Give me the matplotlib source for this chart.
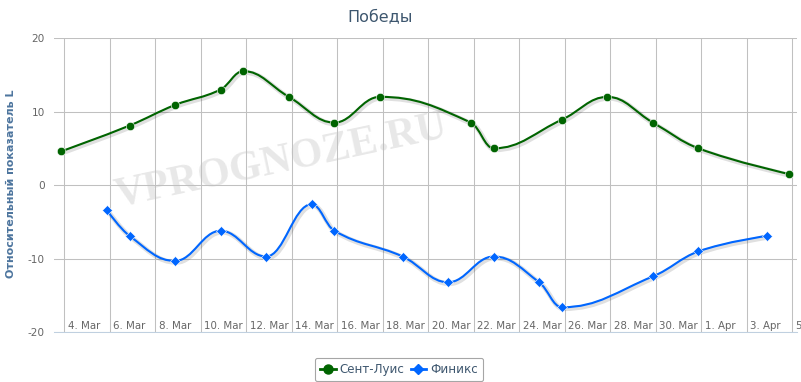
import numpy as np
import matplotlib
matplotlib.use("Agg")
import matplotlib.pyplot as plt
import matplotlib.dates as mdates
import matplotlib.patheffects as pe
from matplotlib.path import Path
from matplotlib.patches import PathPatch
from matplotlib.lines import Line2D
import pandas as pd

# ---------------- data ----------------
title = "Победы"
y_label = "Относительный показатель L"
series_names = ["Сент-Луис", "Финикс"]
series_colors = ["#006400", "#0066FF"]

stl_dates = ["2013-03-04", "2013-03-07", "2013-03-09", "2013-03-11", "2013-03-12",
             "2013-03-14", "2013-03-16", "2013-03-18", "2013-03-22", "2013-03-23",
             "2013-03-26", "2013-03-28", "2013-03-30", "2013-04-01", "2013-04-05"]
stl_values = [4.6, 8.1, 10.9, 13.0, 15.5, 12.0, 8.5, 12.0, 8.5, 5.0, 8.9, 12.0, 8.5, 5.0, 1.5]

phx_dates = ["2013-03-06", "2013-03-07", "2013-03-09", "2013-03-11", "2013-03-13",
             "2013-03-15", "2013-03-16", "2013-03-19", "2013-03-21", "2013-03-23",
             "2013-03-25", "2013-03-26", "2013-03-30", "2013-04-01", "2013-04-04"]
phx_values = [-3.4, -6.9, -10.3, -6.2, -9.7, -2.6, -6.2, -9.7, -13.2, -9.7, -13.2, -16.6, -12.4, -9.0, -6.9]

x_tick_dates = ["2013-03-04", "2013-03-06", "2013-03-08", "2013-03-10", "2013-03-12",
                "2013-03-14", "2013-03-16", "2013-03-18", "2013-03-20", "2013-03-22",
                "2013-03-24", "2013-03-26", "2013-03-28", "2013-03-30", "2013-04-01",
                "2013-04-03", "2013-04-05"]
x_tick_labels = ["4. Mar", "6. Mar", "8. Mar", "10. Mar", "12. Mar", "14. Mar", "16. Mar",
                 "18. Mar", "20. Mar", "22. Mar", "24. Mar", "26. Mar", "28. Mar",
                 "30. Mar", "1. Apr", "3. Apr", "5. Apr"]
y_ticks = [-20, -10, 0, 10, 20]
watermark = "VPROGNOZE.RU"

# time of day of the data points (timestamps are a few hours before midnight)
point_time_shift = pd.Timedelta(hours=-3)


def to_num(dates, shift=pd.Timedelta(0)):
    return mdates.date2num(pd.to_datetime(dates) + shift)


def hc_spline(xs, ys, smoothing=1.5):
    n = len(xs)
    denom = smoothing + 1.0
    left = [None] * n
    right = [None] * n
    for i in range(n):
        x, y = xs[i], ys[i]
        if 0 < i < n - 1:
            lx, ly = xs[i - 1], ys[i - 1]
            nx, ny = xs[i + 1], ys[i + 1]
            lcx = (smoothing * x + lx) / denom
            lcy = (smoothing * y + ly) / denom
            rcx = (smoothing * x + nx) / denom
            rcy = (smoothing * y + ny) / denom
            corr = (rcy - lcy) * (rcx - x) / (rcx - lcx) + y - rcy
            lcy += corr
            rcy += corr
            if lcy > ly and lcy > y:
                lcy = max(ly, y); rcy = 2 * y - lcy
            elif lcy < ly and lcy < y:
                lcy = min(ly, y); rcy = 2 * y - lcy
            if rcy > ny and rcy > y:
                rcy = max(ny, y); lcy = 2 * y - rcy
            elif rcy < ny and rcy < y:
                rcy = min(ny, y); lcy = 2 * y - rcy
            left[i] = (lcx, lcy)
            right[i] = (rcx, rcy)
        else:
            left[i] = (x, y)
            right[i] = (x, y)
    verts = [(xs[0], ys[0])]
    codes = [Path.MOVETO]
    for i in range(1, n):
        verts += [right[i - 1], left[i], (xs[i], ys[i])]
        codes += [Path.CURVE4] * 3
    return Path(verts, codes)


# ---------------- figure ----------------
W, H = 801, 382
fig = plt.figure(figsize=(W / 100, H / 100), dpi=100)
ax = fig.add_axes([54 / W, 1 - 332.3 / H, (797 - 54) / W, (332.3 - 38) / H])

sx = to_num(stl_dates, point_time_shift)
px = to_num(phx_dates, point_time_shift)
tx = to_num(x_tick_dates)

shadow = [pe.SimpleLineShadow(offset=(1, -1), shadow_color="black", alpha=0.12, linewidth=3.5),
          pe.Normal()]

series = [(sx, stl_values, "o", 6.0), (px, phx_values, "D", 4.6)]
for (xs, ys, mk, ms), color in zip(series, series_colors):
    path = hc_spline(list(xs), list(ys))
    patch = PathPatch(path, fill=False, edgecolor=color, linewidth=1.5, zorder=3,
                      capstyle="round", joinstyle="round", path_effects=shadow)
    ax.add_patch(patch)
    ax.plot(xs, ys, ls="none", marker=mk, ms=ms, color=color, mec="white", mew=0.4, zorder=4)

xmin = min(sx.min(), px.min()) - 0.32
xmax = max(sx.max(), px.max()) + 0.33
ax.set_xlim(xmin, xmax)
ax.set_ylim(y_ticks[0], y_ticks[-1])

ax.set_xticks(tx)
ax.set_xticklabels([])
ax.set_yticks(y_ticks)
ax.set_yticklabels([str(v) for v in y_ticks], fontsize=7.6, color="#666666")
ax.tick_params(axis="both", length=0)
ax.tick_params(axis="y", pad=6.5)
ax.set_axisbelow(True)
ax.grid(True, color="#C0C0C0", linewidth=0.75)

for s in ["top", "left", "right"]:
    ax.spines[s].set_visible(False)
ax.spines["bottom"].set_color("#C0D0E0")
ax.spines["bottom"].set_linewidth(0.75)

for x, lab in zip(tx, x_tick_labels):
    ax.annotate(lab, xy=(x, y_ticks[0]), xytext=(3.4, 3.0), textcoords="offset pixels",
                ha="left", va="baseline", fontsize=7.4, color="#666666",
                annotation_clip=False, clip_on=False)

# watermark
ax.text(281 / W, 1 - 162 / H, watermark, transform=fig.transFigure, rotation=12,
        ha="center", va="center", fontsize=30, fontweight="bold",
        family="Liberation Serif", color="#E8E8E8", zorder=0.1, clip_on=False)

fig.text(380 / W, 1 - 17 / H, title, ha="center", va="center", fontsize=11.5, color="#3E576F")
fig.text(11 / W, 1 - 184 / H, y_label, rotation=90, ha="center", va="center",
         fontsize=8, fontweight="bold", color="#4D759E")

handles = [Line2D([0], [0], color=series_colors[0], lw=2, marker="o", ms=6.5),
           Line2D([0], [0], color=series_colors[1], lw=2, marker="D", ms=5)]
leg = fig.legend(handles, series_names, loc="center", bbox_to_anchor=(399 / W, 1 - 369.5 / H),
                 ncol=2, frameon=True, fancybox=True, fontsize=8.6, handlelength=1.3,
                 handletextpad=0.35, columnspacing=0.5, borderpad=0.45, labelcolor="#3E576F")
leg.get_frame().set_edgecolor("#909090")
leg.get_frame().set_linewidth(0.8)

fig.savefig("out.png", dpi=100)
